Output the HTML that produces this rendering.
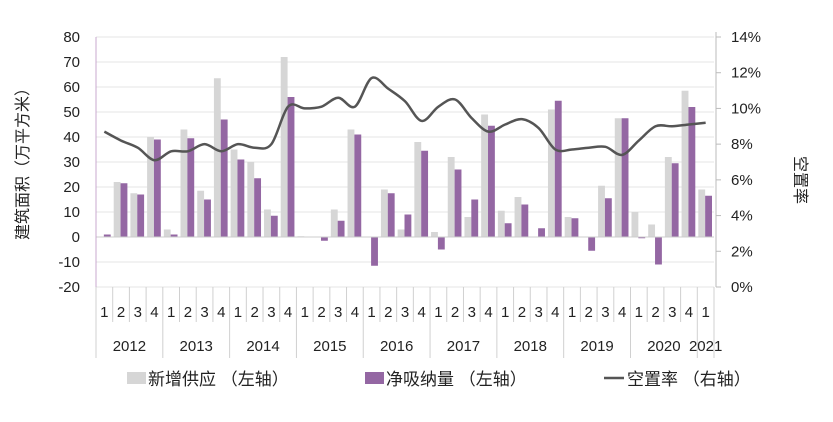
<!DOCTYPE html>
<html><head><meta charset="utf-8"><style>
body{margin:0;background:#fff;}
svg text{font-family:"Liberation Sans","Noto Sans CJK SC",sans-serif;fill:#222;}
</style></head><body>
<svg id="c" width="833" height="417" xmlns="http://www.w3.org/2000/svg"></svg>
<script>
const years=["2012","2013","2014","2015","2016","2017","2018","2019","2020","2021"];
const quarters=["1","2","3","4","1","2","3","4","1","2","3","4","1","2","3","4","1","2","3","4","1","2","3","4","1","2","3","4","1","2","3","4","1","2","3","4","1"];
const supply=[0,22,17.5,40,3,43,18.5,63.5,35,30,11,72,0.3,0,11,43,0,19,3,38,2,32,8,49,10.5,16,0,51,8,0,20.5,47.5,10,5,32,58.5,19];
const absorption=[1,21.5,17,39,1,39.5,15,47,31,23.5,8.5,56,0,-1.5,6.5,41,-11.5,17.5,9,34.5,-5,27,15,44.5,5.5,13,3.5,54.5,7.5,-5.5,15.5,47.5,-0.5,-11,29.5,52,16.5];
const vacancy=[8.7,8.2,7.8,7.1,7.6,7.6,8.0,7.6,8.0,7.8,8.0,10.1,10.0,10.1,10.6,10.1,11.7,11.1,10.4,9.3,10.1,10.5,9.45,8.7,9.1,9.4,8.9,7.7,7.7,7.8,7.85,7.4,8.2,9.0,9.0,9.1,9.2];
const leftTicks=[80,70,60,50,40,30,20,10,0,-10,-20];
const rightTicks=[14,12,10,8,6,4,2,0];
const svg=document.getElementById('c');const NS="http://www.w3.org/2000/svg";
function mk(t,a,p){const e=document.createElementNS(NS,t);for(const k in a)e.setAttribute(k,a[k]);(p||svg).appendChild(e);return e;}
const X0=96,X1=714,YT=37,YB=287;
const bw=(X1-X0)/quarters.length;
const yL=v=>YB-(v+20)/100*(YB-YT);
const yR=v=>YB-v/14*(YB-YT);
const xc=i=>X0+bw*(i+0.5);
leftTicks.forEach(v=>{
 const g=mk('line',{x1:X0,x2:X1,y1:yL(v),y2:yL(v),stroke:'#e4e4e4','stroke-width':1});
 
 
 const t=mk('text',{x:80,y:yL(v)+5,'text-anchor':'end','font-size':15});
 t.textContent=v;
 
 
});
rightTicks.forEach(v=>{
 const t=mk('text',{x:731,y:yR(v)+5,'font-size':15});
 t.textContent=v+'%';
 
 
 mk('line',{x1:716,x2:721,y1:yR(v),y2:yR(v),stroke:'#bbb'});
});
supply.forEach((v,i)=>{
 const x=X0+bw*i+bw*0.5-bw*0.82/2-0.5;
 const r=mk('rect',{x:x,y:Math.min(yL(v),yL(0)),width:bw*0.41,height:Math.abs(yL(v)-yL(0)),fill:'#d6d6d6'});
 
 
});
absorption.forEach((v,i)=>{
 const x=X0+bw*i+bw*0.5;
 const r=mk('rect',{x:x-0.5,y:Math.min(yL(v),yL(0)),width:bw*0.41,height:Math.abs(yL(v)-yL(0)),fill:'#9467a3'});
 
 
});
mk('line',{x1:X0,x2:X1,y1:yL(0),y2:yL(0),stroke:'#ccc'});
let pts=vacancy.map((v,i)=>[xc(i),yR(v)]);
let d='M'+pts[0][0]+','+pts[0][1];
for(let i=0;i<pts.length-1;i++){
 const p0=pts[i-1]||pts[i],p1=pts[i],p2=pts[i+1],p3=pts[i+2]||p2;
 const c1=[p1[0]+(p2[0]-p0[0])/6,p1[1]+(p2[1]-p0[1])/6],c2=[p2[0]-(p3[0]-p1[0])/6,p2[1]-(p3[1]-p1[1])/6];
 d+=` C${c1[0]},${c1[1]} ${c2[0]},${c2[1]} ${p2[0]},${p2[1]}`;
}
const ln=mk('path',{d:d,fill:'none',stroke:'#555','stroke-width':2.5});


mk('line',{x1:X0,x2:X0,y1:YT,y2:YB,stroke:'#c9a8cf'});
mk('line',{x1:716,x2:716,y1:YT-5,y2:YB,stroke:'#bbb'});
quarters.forEach((q,i)=>{
 mk('line',{x1:X0+bw*i,x2:X0+bw*i,y1:YB,y2:i%4==0?358:322,stroke:'#d0d0d0'});
 const t=mk('text',{x:xc(i),y:317,'text-anchor':'middle','font-size':15});
 t.textContent=q;
 
 
});
mk('line',{x1:X1,x2:X1,y1:YB,y2:358,stroke:'#d0d0d0'});
years.forEach((y,i)=>{
 const n=i==years.length-1?1:4;
 const t=mk('text',{x:X0+bw*(i*4+n/2),y:351,'text-anchor':'middle','font-size':15});
 t.textContent=y;
 
 
});
</script>
<svg style="position:absolute;left:0;top:0" width="833" height="417" xmlns="http://www.w3.org/2000/svg">
<text x="28" y="160" transform="rotate(-90 28 160)" text-anchor="middle" font-size="16">建筑面积（万平方米）</text>
<text x="795" y="180" transform="rotate(90 795 180)" text-anchor="middle" font-size="16">空置率</text>
<g>
<rect x="127" y="372" width="19" height="12" fill="#d6d6d6"/>
<text x="148" y="385" font-size="17">新增供应 （左轴）</text>
<rect x="365" y="372" width="19" height="12" fill="#9467a3"/>
<text x="386" y="385" font-size="17">净吸纳量 （左轴）</text>
<line x1="604" x2="624" y1="378" y2="378" stroke="#555" stroke-width="2.5"/>
<text x="627" y="385" font-size="17">空置率 （右轴）</text>
</g>
</svg>
</body></html>
